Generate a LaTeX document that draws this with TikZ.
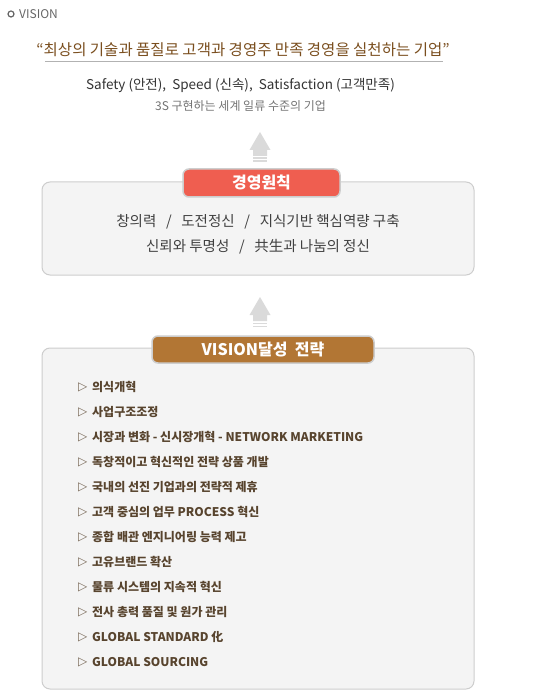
\documentclass[tikz,border=0pt]{standalone}
\usepackage{fontspec}
\setmainfont{Noto Sans CJK KR}
\newfontfamily\dejavu{DejaVu Sans}
\definecolor{linegray}{RGB}{205,205,205}
\definecolor{boxfill}{RGB}{244,244,244}
\definecolor{arrowgray}{RGB}{218,218,218}
\definecolor{redlabel}{RGB}{239,94,80}
\definecolor{brownlabel}{RGB}{178,118,52}
\definecolor{titlebrown}{RGB}{122,78,30}
\definecolor{itembrown}{RGB}{88,68,46}
\tikzset{
  bigbox/.style={draw=linegray, fill=boxfill, line width=1pt, rounded corners=8pt,
    minimum width=432pt, inner sep=0pt},
  labelbox/.style={draw=linegray, line width=1.5pt, rounded corners=6pt, text=white,
    font=\fontsize{16}{18}\selectfont\bfseries, inner sep=0pt},
  principle/.style={text=black!75, font=\fontsize{14.5}{17}\selectfont},
  item/.style={anchor=west, text=itembrown, inner sep=0pt, font=\fontsize{12}{14}\selectfont\bfseries},
  tri/.style={anchor=west, text=itembrown!80, inner sep=0pt, font=\dejavu\fontsize{12}{14}\selectfont}
}
\begin{document}
\begin{tikzpicture}[x=1pt, y=-1pt]
    \useasboundingbox (0,0) rectangle (556,692);
    % heading
    \draw[black!60, line width=1.2pt] (11,14) circle (3);
    \node[anchor=west, inner sep=0pt, text=black!60, font=\fontsize{12}{13}\selectfont] (heading) at (19,14) {VISION};
    % motto
    \node[text=titlebrown, inner sep=0pt, font=\fontsize{15.5}{18}\selectfont] (motto) at (243,50) {“최상의 기술과 품질로 고객과 경영주 만족 경영을 실천하는 기업”};
    \draw[black!30, line width=0.8pt] (45,61.5) -- (443,61.5);
    \node[inner sep=0pt, text=black!80, font=\fontsize{13.5}{16}\selectfont] (safety) at (240.5,86) {Safety (안전),\ \ Speed (신속),\ \ Satisfaction (고객만족)};
    \node[inner sep=0pt, text=black!55, font=\fontsize{12}{14}\selectfont] (worldclass) at (240.5,106) {3S 구현하는 세계 일류 수준의 기업};
    % two up arrows with stripes
    \foreach \ay in {0,165} {
        \fill[arrowgray] (260,132+\ay) -- (270.5,150+\ay) -- (267,150+\ay) -- (267,156+\ay)
            -- (253,156+\ay) -- (253,150+\ay) -- (249.5,150+\ay) -- cycle;
        \foreach \s in {157.5,160.5}
            \fill[arrowgray] (253,\s+\ay) rectangle (267,\s+1.5+\ay);
    }
    % principles box
    \node[bigbox, minimum height=93pt] (principlebox) at (258,228.5) {};
    \node[labelbox, fill=redlabel, minimum width=157pt, minimum height=28pt] (principlelabel) at (261.5,183) {경영원칙};
    \node[principle] (principle1) at (258,222) {창의력\enspace\,/\,\enspace 도전정신\enspace\,/\,\enspace 지식기반 핵심역량 구축};
    \node[principle] (principle2) at (258,247) {신뢰와 투명성\enspace\,/\,\enspace 共生과 나눔의 정신};
    % strategy box
    \node[bigbox, minimum height=341pt] (strategybox) at (258,518.5) {};
    \node[labelbox, fill=brownlabel, minimum width=222pt, minimum height=27pt] (strategylabel) at (263,349.5) {VISION달성\ \ 전략};
    % strategy items
    \foreach \t [count=\i] in {의식개혁, 사업구조조정, 시장과 변화 - 신시장개혁 - NETWORK MARKETING,
        독창적이고 혁신적인 전략 상품 개발, 국내의 선진 기업과의 전략적 제휴,
        고객 중심의 업무 PROCESS 혁신, 종합 배관 엔지니어링 능력 제고, 고유브랜드 확산,
        물류 시스템의 지속적 혁신, 전사 총력 품질 및 원가 관리, GLOBAL STANDARD 化,
        GLOBAL SOURCING} {
        \node[tri] (tri\i) at (78,362+25*\i) {▷};
        \node[item] (item\i) at (92,362+25*\i) {\t};
    }
\end{tikzpicture}
\end{document}
